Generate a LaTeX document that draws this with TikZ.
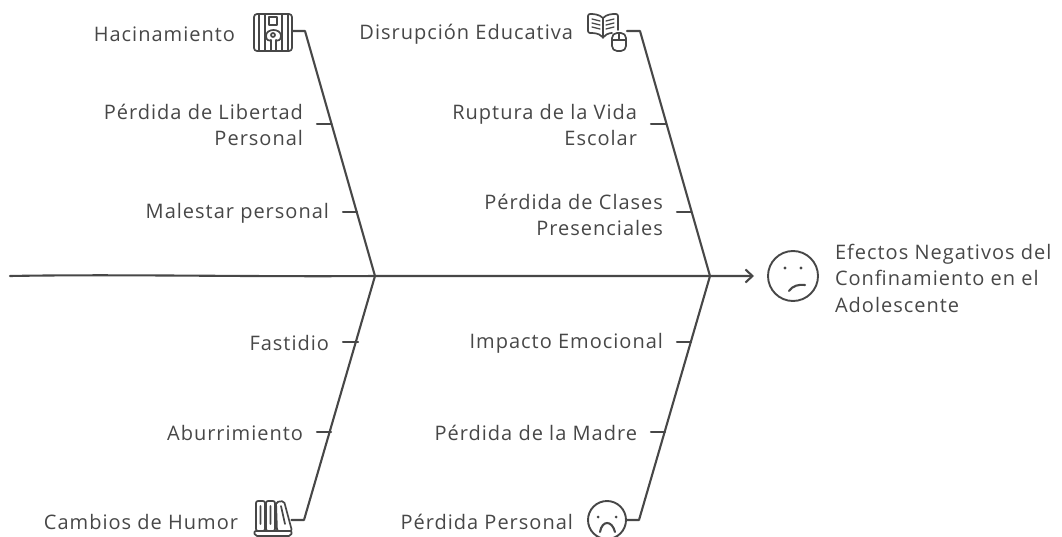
\documentclass[tikz,border=0pt]{standalone}
\usepackage{fontspec}
\setmainfont[LetterSpace=5]{Open Sans}
\usetikzlibrary{arrows.meta,calc}
\definecolor{ink}{HTML}{474747}
\tikzset{
  x=1pt,y=-1pt,
  bone/.style={draw=ink,line width=2.1pt,line join=round,line cap=round},
  thin icon/.style={draw=ink,line width=1.7pt,line join=round,line cap=round},
  lbl/.style={text=ink,font=\fontsize{20}{26.5}\selectfont,inner sep=0pt,outer sep=0pt,align=right,anchor=east},
  ttl/.style={text=ink,font=\fontsize{20}{26.5}\selectfont,inner sep=0pt,outer sep=0pt,align=left,anchor=west},
  face/.style={circle,draw=ink,line width=1.9pt,inner sep=0pt,outer sep=0pt},
  box/.style={inner sep=0pt,outer sep=0pt,minimum width=#1,minimum height=#1}
}
\begin{document}
\begin{tikzpicture}
\useasboundingbox (0,0) rectangle (1062,537);
% spine
\coordinate (tail) at (10,276);
\coordinate (j1) at (375,276);
\coordinate (j2) at (710,276);
\node[face,minimum size=50pt] (main) at (793,276) {};
\draw[bone,-{Straight Barb[length=7pt,width=13pt,line width=2.1pt]},shorten >=14pt] (tail) .. controls (120,274) and (250,277) .. (j1) -- (j2) -- (main.west);
\node[ttl] (title) at (835,278) {Efectos Negativos del\\Confinamiento en el\\Adolescente};
\fill[ink] (785,268) circle (1.6pt) (801,268) circle (1.6pt);
\draw[bone] (789,291) .. controls (792,286) and (799,284) .. (805,285);
% icons as nodes
\node[box=38pt] (jail) at (273,32) {};
\node[box=14pt] (mouse) at (620,41) {};
\node[box=37pt] (shelf) at (273,518) {};
\node[face,minimum size=38pt] (sad) at (607,520) {};
% bone corners
\coordinate (c1) at (305,31);
\coordinate (c2) at (640,31);
\coordinate (c3) at (304,520);
\coordinate (c4) at (639,520);
\draw[bone] (jail.east |- c1) -- (c1) -- (j1) -- (c3) -- (shelf.east |- c3);
\draw[bone] (627,31) -- (c2) -- (j2) -- (c4) -- (sad.east |- c4);
% labels
\node[lbl] (a1) at (235,34) {Hacinamiento};
\node[lbl] (a2) at (303,125) {Pérdida de Libertad\\Personal};
\node[lbl] (a3) at (329,213) {Malestar personal};
\node[lbl] (b1) at (573,34) {Disrupción Educativa};
\node[lbl] (b2) at (637,125) {Ruptura de la Vida\\Escolar};
\node[lbl] (b3) at (663,215) {Pérdida de Clases\\Presenciales};
\node[lbl] (c1l) at (329,343) {Fastidio};
\node[lbl] (c2l) at (303,433) {Aburrimiento};
\node[lbl] (c3l) at (238,522) {Cambios de Humor};
\node[lbl] (d1) at (663,343) {Impacto Emocional};
\node[lbl] (d2) at (637,433) {Pérdida de la Madre};
\node[lbl] (d3) at (573,522) {Pérdida Personal};
% ribs
\coordinate (r1) at (331.5,124);
\coordinate (r2) at (357,212);
\coordinate (r3) at (665.5,124);
\coordinate (r4) at (691,212);
\coordinate (r5) at (358,342);
\coordinate (r6) at (331,432);
\coordinate (r7) at (691,342);
\coordinate (r8) at (665,432);
\draw[bone] ([xshift=14pt]a2.east |- r1) -- (r1);
\draw[bone] ([xshift=14pt]a3.east |- r2) -- (r2);
\draw[bone] ([xshift=14pt]b2.east |- r3) -- (r3);
\draw[bone] ([xshift=14pt]b3.east |- r4) -- (r4);
\draw[bone] ([xshift=14pt]c1l.east |- r5) -- (r5);
\draw[bone] ([xshift=14pt]c2l.east |- r6) -- (r6);
\draw[bone] ([xshift=14pt]d1.east |- r7) -- (r7);
\draw[bone] ([xshift=14pt]d2.east |- r8) -- (r8);
% jail icon
\draw[thin icon,rounded corners=3pt] (254,14) rectangle (292,51);
\foreach \x in {259,265,282,288} \draw[thin icon] (\x,14) -- (\x,51);
\draw[thin icon] (269,17) rectangle (277,25);
\draw[thin icon] (266,36) .. controls (266,28) and (281,28) .. (281,36) .. controls (281,41) and (277,41) .. (276,40) -- (276,51) (266,36) .. controls (266,41) and (270,41) .. (271,40) -- (271,51);
\draw[thin icon] (273,35) circle (2pt);
% book + mouse icon
\draw[thin icon,rounded corners=2pt] (603,18) .. controls (599,14) and (593,14) .. (588,14) -- (588,33) .. controls (593,33) and (599,33) .. (603,38) .. controls (607,33) and (612,33) .. (612,33) (603,18) .. controls (607,14) and (612,14) .. (618,14) -- (618,30);
\draw[thin icon] (603,18) -- (603,38);
\foreach \y in {19,23,27} { \draw[thin icon,line width=1.3pt] (592,\y) -- (600,{\y+2}); \draw[thin icon,line width=1.3pt] (606,{\y+2}) -- (614,\y); }
\draw[thin icon,rounded corners=5pt] (612,33) rectangle (626,51);
\draw[thin icon] (612,40) -- (626,40) (619,33) -- (619,40);
% shelf icon
\draw[thin icon,rounded corners=2pt] (256,501) rectangle (265,531);
\draw[thin icon,rounded corners=2pt] (266,501) rectangle (275,531);
\draw[thin icon,rounded corners=2pt] (276,502) -- (284,501) -- (292,531) -- (277,531) -- cycle;
\draw[thin icon] (260.5,506) -- (260.5,524) (270.5,506) -- (270.5,524) (281,506) -- (285,524);
\draw[thin icon,rounded corners=2pt] (254,531) -- (292,531) -- (291,536) -- (255,536) -- cycle;
% sad face
\fill[ink] (598,517) circle (1.5pt) (616,517) circle (1.5pt);
\draw[bone] (600,532) .. controls (602,520) and (612,520) .. (615,532);
\end{tikzpicture}
\end{document}
